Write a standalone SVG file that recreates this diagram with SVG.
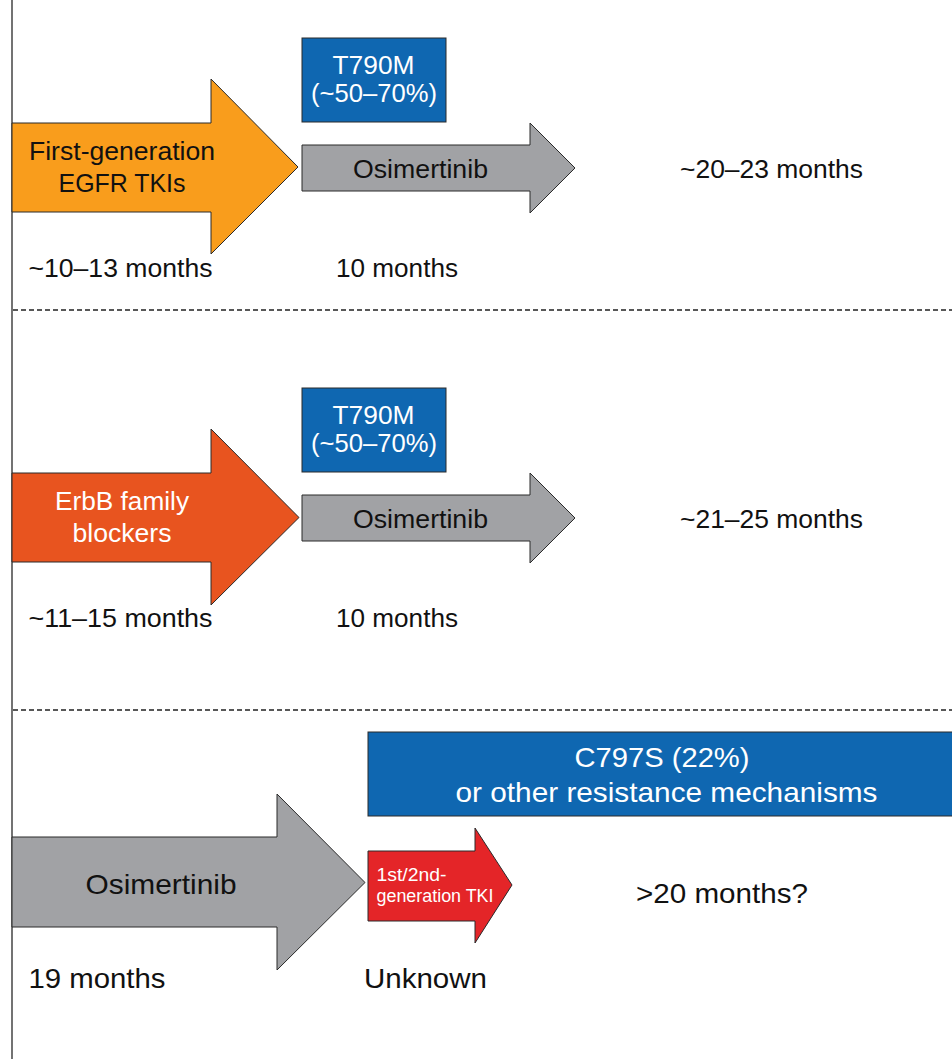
<svg xmlns="http://www.w3.org/2000/svg" width="952" height="1059" viewBox="0 0 952 1059">
<style>
text{font-family:"Liberation Sans",Arial,Helvetica,sans-serif}
.t{font-size:25.5px;fill:#111}
.tl{font-size:28px;fill:#111}
.ts{font-size:17.5px;fill:#fff}
.w{fill:#fff}
.c{text-anchor:middle}
.arrow{stroke:#2a2a2a;stroke-width:1}
.orange{fill:#F99D1C}
.erbb{fill:#E8541F}
.gray{fill:#A1A2A5}
.red{fill:#E42528}
.blue{fill:#0F67B1;stroke:#2a2a2a;stroke-width:1}
.axis{stroke:#444;stroke-width:1.5;fill:none}
.dash{stroke:#222;stroke-width:1.3;stroke-dasharray:5 3;fill:none}
</style>
<rect width="952" height="1059" fill="#fff"/>
<g id="connectors">
<line class="axis" x1="12" y1="0" x2="12" y2="1059"/>
<line class="dash" x1="13" y1="310" x2="952" y2="310"/>
<line class="dash" x1="13" y1="710" x2="952" y2="710"/>
</g>
<g id="first-gen">
<path class="arrow orange" d="M12,123 H211 V79 L298,167 L211,254 V212 H12 Z"/>
<text class="t c" x="122" y="160" textLength="186" lengthAdjust="spacingAndGlyphs">First-generation</text>
<text class="t c" x="122" y="192.3" textLength="127" lengthAdjust="spacingAndGlyphs">EGFR TKIs</text>
</g>
<g id="t790m-1">
<rect class="blue" x="302" y="38" width="144" height="84"/>
<text class="t c w" x="373.5" y="73.5" textLength="82" lengthAdjust="spacingAndGlyphs">T790M</text>
<text class="t c w" x="374" y="102" textLength="126" lengthAdjust="spacingAndGlyphs">(~50–70%)</text>
</g>
<g id="osi-1">
<path class="arrow gray" d="M302,145 H530 V123 L575,168 L530,213 V191 H302 Z"/>
<text class="t c" x="420.5" y="178" textLength="135" lengthAdjust="spacingAndGlyphs">Osimertinib</text>
</g>
<g id="labels-1">
<text class="t c" x="771.5" y="178" textLength="183" lengthAdjust="spacingAndGlyphs">~20–23 months</text>
<text class="t c" x="120.5" y="276.7" textLength="184" lengthAdjust="spacingAndGlyphs">~10–13 months</text>
<text class="t c" x="397" y="276.7" textLength="122" lengthAdjust="spacingAndGlyphs">10 months</text>
</g>
<g id="erbb">
<path class="arrow erbb" d="M12,473 H211 V429 L299,517.5 L211,605 V562 H12 Z"/>
<text class="t c w" x="122" y="510" textLength="134" lengthAdjust="spacingAndGlyphs">ErbB family</text>
<text class="t c w" x="122" y="541.7" textLength="99" lengthAdjust="spacingAndGlyphs">blockers</text>
</g>
<g id="t790m-2">
<rect class="blue" x="302" y="388" width="144" height="84"/>
<text class="t c w" x="373.5" y="423.5" textLength="82" lengthAdjust="spacingAndGlyphs">T790M</text>
<text class="t c w" x="374" y="452" textLength="126" lengthAdjust="spacingAndGlyphs">(~50–70%)</text>
</g>
<g id="osi-2">
<path class="arrow gray" d="M302,495 H530 V473 L575,518 L530,563 V541 H302 Z"/>
<text class="t c" x="420.5" y="528" textLength="135" lengthAdjust="spacingAndGlyphs">Osimertinib</text>
</g>
<g id="labels-2">
<text class="t c" x="771.5" y="528" textLength="183" lengthAdjust="spacingAndGlyphs">~21–25 months</text>
<text class="t c" x="120.5" y="626.7" textLength="184" lengthAdjust="spacingAndGlyphs">~11–15 months</text>
<text class="t c" x="397" y="626.7" textLength="122" lengthAdjust="spacingAndGlyphs">10 months</text>
</g>
<g id="c797s">
<rect class="blue" x="368" y="732" width="600" height="84"/>
<text class="tl c w" x="662" y="766.5" textLength="175" lengthAdjust="spacingAndGlyphs">C797S (22%)</text>
<text class="tl c w" x="666.5" y="801.5" textLength="422" lengthAdjust="spacingAndGlyphs">or other resistance mechanisms</text>
</g>
<g id="osi-3">
<path class="arrow gray" d="M12,837 H277 V794 L365,882.5 L277,970 V927 H12 Z"/>
<text class="tl c" x="161" y="894" textLength="151" lengthAdjust="spacingAndGlyphs">Osimertinib</text>
</g>
<g id="tki">
<path class="arrow red" d="M368,851 H475 V828 L512,885 L475,943 V921 H368 Z"/>
<text class="ts" x="376.5" y="880.7" textLength="70" lengthAdjust="spacingAndGlyphs">1st/2nd-</text>
<text class="ts" x="376.5" y="902" textLength="117" lengthAdjust="spacingAndGlyphs">generation TKI</text>
</g>
<g id="labels-3">
<text class="tl c" x="722" y="902.7" textLength="172" lengthAdjust="spacingAndGlyphs">&gt;20 months?</text>
<text class="tl c" x="97" y="988" textLength="137" lengthAdjust="spacingAndGlyphs">19 months</text>
<text class="tl c" x="425.5" y="988" textLength="123" lengthAdjust="spacingAndGlyphs">Unknown</text>
</g>
</svg>
